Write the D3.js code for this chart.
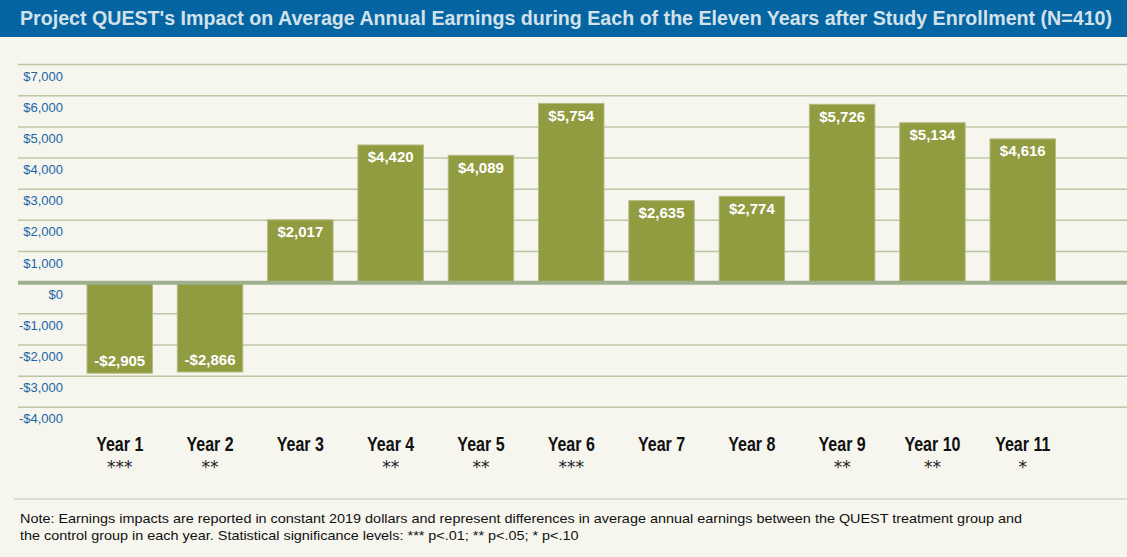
<!DOCTYPE html>
<html>
<head>
<meta charset="utf-8">
<script src="https://cdn.jsdelivr.net/npm/d3@7"></script>
<style>
  html, body { margin: 0; padding: 0; background: #f6f5ee; }
  svg { display: block; }
</style>
</head>
<body>
<svg id="chart" width="1127" height="557"></svg>
<script>
var years = ["Year 1", "Year 2", "Year 3", "Year 4", "Year 5", "Year 6",
             "Year 7", "Year 8", "Year 9", "Year 10", "Year 11"];
var impacts = [-2905, -2866, 2017, 4420, 4089, 5754, 2635, 2774, 5726, 5134, 4616];
var stars = ["***", "**", "", "**", "**", "***", "", "", "**", "**", "*"];
var yTicks = [7000, 6000, 5000, 4000, 3000, 2000, 1000, 0, -1000, -2000, -3000, -4000];

var titleText = "Project QUEST's Impact on Average Annual Earnings during Each of the Eleven Years after Study Enrollment (N=410)";
var noteLines = [
  "Note: Earnings impacts are reported in constant 2019 dollars and represent differences in average annual earnings between the QUEST treatment group and",
  "the control group in each year. Statistical significance levels: *** p<.01; ** p<.05; * p<.10"
];

var width = 1127, height = 557;
var svg = d3.select("#chart");

function money(d) {
  var s = "$" + d3.format(",")(Math.abs(d));
  return d < 0 ? "-" + s : s;
}

svg.append("rect")
  .attr("width", width).attr("height", height)
  .attr("fill", "#f6f5ee");

// title bar
svg.append("rect")
  .attr("width", width).attr("height", 37)
  .attr("fill", "#0565a2");
svg.append("text")
  .attr("x", 20).attr("y", 24.5)
  .attr("fill", "#d3e2ea")
  .attr("font-family", "'Liberation Sans', Arial, sans-serif")
  .attr("font-weight", "bold")
  .attr("font-size", 19.5)
  .attr("textLength", 1092)
  .attr("lengthAdjust", "spacingAndGlyphs")
  .text(titleText);

var y = d3.scaleLinear()
  .domain([-4000, 7000])
  .range([407.3, 64.6]);

var x = d3.scaleBand()
  .domain(years)
  .range([74.6, 1067.9])
  .paddingInner(0.275)
  .paddingOuter(0.1375);

// gridlines
svg.append("g")
  .selectAll("line")
  .data(yTicks.filter(function(d) { return d !== 0; }))
  .enter()
  .append("line")
  .attr("x1", 18).attr("x2", width)
  .attr("y1", function(d) { return y(d); })
  .attr("y2", function(d) { return y(d); })
  .attr("stroke", "#bcc7a6")
  .attr("stroke-width", 1.5);

// tick labels, sitting just under each gridline
svg.append("g")
  .selectAll("text")
  .data(yTicks)
  .enter()
  .append("text")
  .attr("x", 63)
  .attr("y", function(d) { return y(d) + 16; })
  .attr("text-anchor", "end")
  .attr("fill", "#1a66a8")
  .attr("font-family", "'Liberation Sans', Arial, sans-serif")
  .attr("font-size", 13)
  .text(money);

// bars
svg.append("g")
  .selectAll("rect")
  .data(impacts)
  .enter()
  .append("rect")
  .attr("x", function(d, i) { return x(years[i]); })
  .attr("y", function(d) { return d >= 0 ? y(d) : y(0); })
  .attr("width", x.bandwidth())
  .attr("height", function(d) { return Math.abs(y(d) - y(0)); })
  .attr("fill", "#919b3f")
  .attr("stroke", "#b3bc85")
  .attr("stroke-width", 1);

// zero line
svg.append("line")
  .attr("x1", 18).attr("x2", width)
  .attr("y1", y(0)).attr("y2", y(0))
  .attr("stroke", "#9eb08e")
  .attr("stroke-width", 4);

// value labels
svg.append("g")
  .selectAll("text")
  .data(impacts)
  .enter()
  .append("text")
  .attr("x", function(d, i) { return x(years[i]) + x.bandwidth() / 2; })
  .attr("y", function(d) { return d >= 0 ? y(d) + 17.5 : y(d) - 7; })
  .attr("text-anchor", "middle")
  .attr("fill", "#ffffff")
  .attr("font-family", "'Liberation Sans', Arial, sans-serif")
  .attr("font-weight", "bold")
  .attr("font-size", 15)
  .text(money);

// year labels (squeezed to look like a condensed face) + significance stars
var cats = svg.append("g")
  .selectAll("g")
  .data(years)
  .enter()
  .append("g")
  .attr("transform", function(d) { return "translate(" + (x(d) + x.bandwidth() / 2) + ",0)"; });
cats.append("text")
  .attr("transform", "translate(0,451) scale(0.8,1)")
  .attr("text-anchor", "middle")
  .attr("fill", "#111")
  .attr("font-family", "'Liberation Sans', Arial, sans-serif")
  .attr("font-weight", "bold")
  .attr("font-size", 20)
  .text(function(d) { return d; });
cats.append("text")
  .attr("y", 473)
  .attr("text-anchor", "middle")
  .attr("fill", "#222")
  .attr("font-family", "'DejaVu Sans', sans-serif")
  .attr("font-size", 17)
  .text(function(d, i) { return stars[i]; });

// note separator + text
svg.append("line")
  .attr("x1", 14).attr("x2", width)
  .attr("y1", 499).attr("y2", 499)
  .attr("stroke", "#d2d5c4")
  .attr("stroke-width", 1.5);
var notes = svg.append("g")
  .selectAll("text")
  .data(noteLines)
  .enter()
  .append("text")
  .attr("x", 20)
  .attr("y", function(d, i) { return 523 + i * 17; })
  .attr("fill", "#111")
  .attr("font-family", "'Liberation Sans', Arial, sans-serif")
  .attr("font-size", 13)
  .text(function(d) { return d; });
// first line runs to x=1022 in the original; stretch both lines by the same factor
var k = 1002 / notes.nodes()[0].getComputedTextLength();
notes.each(function() {
  d3.select(this)
    .attr("textLength", this.getComputedTextLength() * k)
    .attr("lengthAdjust", "spacingAndGlyphs");
});
</script>
</body>
</html>
